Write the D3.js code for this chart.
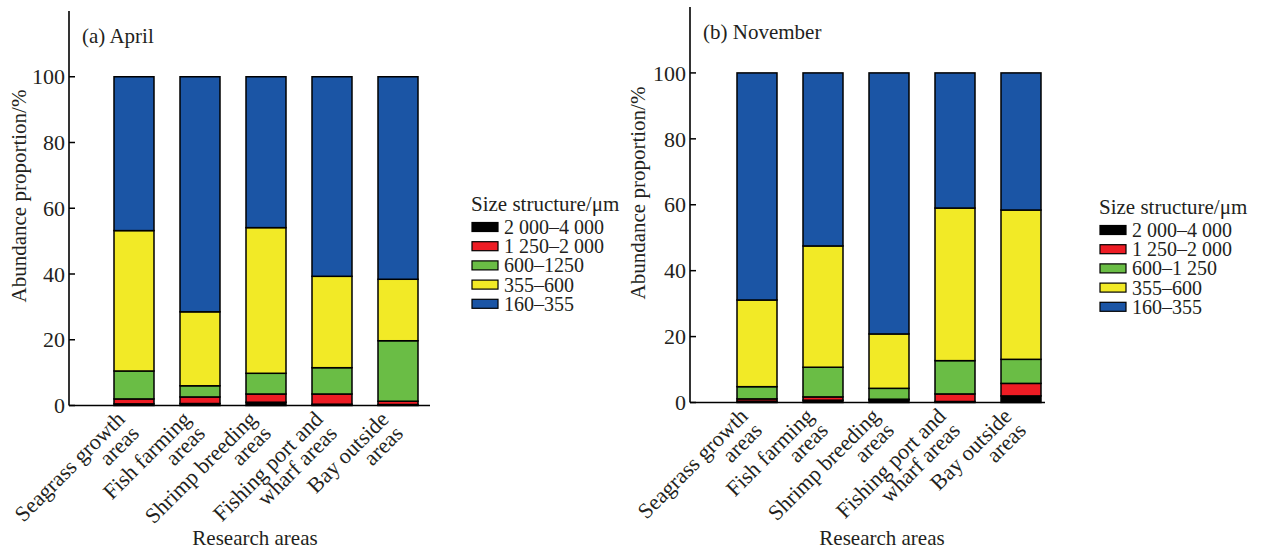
<!DOCTYPE html>
<html>
<head>
<meta charset="utf-8">
<script src="https://cdn.jsdelivr.net/npm/d3@7"></script>
<style>
  body { margin: 0; background: #fff; }
  text { font-family: "Liberation Serif", "Times New Roman", serif; fill: #231f20; }
</style>
</head>
<body>
<svg id="chart" width="1262" height="551"></svg>
<script>
// research areas (two-line tick labels)
const areas = ["Seagrass growth|areas", "Fish farming|areas", "Shrimp breeding|areas",
               "Fishing port and|wharf areas", "Bay outside|areas"];

// size classes, bottom of the stack first
const sizeKeys = ["s2000", "s1250", "s600", "s355", "s160"];
const sizeColors = ["#000000", "#ed1c24", "#6abd45", "#f2ea26", "#1b55a5"];
const legendAprilLabels = ["2 000–4 000", "1 250–2 000", "600–1250", "355–600", "160–355"];
const legendNovLabels = ["2 000–4 000", "1 250–2 000", "600–1 250", "355–600", "160–355"];
const yTicks = [0, 20, 40, 60, 80, 100];

// April (%) per area
const apr2000 = [0.5, 0.6, 1.0, 0.4, 0.3];
const apr1250 = [1.5, 2.0, 2.5, 3.1, 1.0];
const apr600  = [8.5, 3.4, 6.3, 8.0, 18.4];
const apr355  = [42.7, 22.5, 44.3, 27.8, 18.7];
const apr160  = [46.8, 71.5, 45.9, 60.7, 61.6];

// November (%) per area
const nov2000 = [0.4, 0.7, 0.8, 0.3, 2.0];
const nov1250 = [0.7, 1.0, 0.2, 2.3, 3.8];
const nov600  = [3.7, 9.0, 3.3, 10.1, 7.3];
const nov355  = [26.3, 36.8, 16.5, 46.3, 45.3];
const nov160  = [68.9, 52.5, 79.2, 41.0, 41.6];

function rows(a, b, c, d, e) {
  return areas.map((name, i) => ({ area: name, s2000: a[i], s1250: b[i], s600: c[i], s355: d[i], s160: e[i] }));
}

const svg = d3.select("#chart");

function drawPanel(cfg) {
  const g = svg.append("g");

  const x = d3.scaleBand()
    .domain(areas)
    .range([cfg.bandStart, cfg.bandStart + 330])
    .paddingInner(0.394)
    .paddingOuter(0.197);

  const y = d3.scaleLinear().domain([0, 120]).range([cfg.y0, cfg.yTop]);

  const stacked = d3.stack().keys(sizeKeys)(cfg.data);

  g.selectAll("g.layer")
    .data(stacked)
    .enter().append("g")
    .attr("class", "layer")
    .attr("fill", (d, i) => sizeColors[i])
    .selectAll("rect")
    .data(d => d)
    .enter().append("rect")
    .attr("x", d => x(d.data.area))
    .attr("width", x.bandwidth())
    .attr("y", d => y(d[1]))
    .attr("height", d => y(d[0]) - y(d[1]))
    .attr("stroke", "#000")
    .attr("stroke-width", 1.5);

  // axes lines
  g.append("line")
    .attr("x1", cfg.axisX).attr("x2", cfg.axisX)
    .attr("y1", y(0)).attr("y2", y(120))
    .attr("stroke", "#000").attr("stroke-width", 1.6);
  g.append("line")
    .attr("x1", cfg.axisX).attr("x2", cfg.axisRight)
    .attr("y1", y(0)).attr("y2", y(0))
    .attr("stroke", "#000").attr("stroke-width", 1.6);

  yTicks.forEach(t => {
    g.append("line")
      .attr("x1", cfg.axisX).attr("x2", cfg.axisX + 6)
      .attr("y1", y(t)).attr("y2", y(t))
      .attr("stroke", "#000").attr("stroke-width", 1.5);
    g.append("text")
      .attr("x", cfg.axisX - 4)
      .attr("y", y(t))
      .attr("dy", "0.35em")
      .attr("text-anchor", "end")
      .style("font-size", "22px")
      .text(t);
  });

  // rotated category labels
  areas.forEach(a => {
    const cx = x(a) + x.bandwidth() / 2;
    const t = g.append("text")
      .attr("transform", `translate(${cx - 8},${cfg.y0 + 15}) rotate(-45)`)
      .attr("text-anchor", "end")
      .style("font-size", "22px");
    a.split("|").forEach((line, k) => {
      t.append("tspan").attr("x", 0).attr("dy", k === 0 ? 0 : "0.92em").text(line);
    });
  });

  g.append("text")
    .attr("x", cfg.xTitleX).attr("y", 545)
    .attr("text-anchor", "middle")
    .style("font-size", "21px")
    .text("Research areas");

  g.append("text")
    .attr("transform", `translate(${cfg.yTitleX},${cfg.yTitleY}) rotate(-90)`)
    .attr("text-anchor", "middle")
    .style("font-size", "21px")
    .text("Abundance proportion/%");

  g.append("text")
    .attr("x", cfg.axisX + 13).attr("y", cfg.titleY)
    .style("font-size", "21px")
    .text(cfg.title);

  // legend, top entry is the largest size class
  const lg = g.append("g");
  lg.append("text")
    .attr("x", cfg.legX).attr("y", cfg.legY)
    .style("font-size", "21px")
    .text("Size structure/μm");
  sizeKeys.forEach((k, i) => {
    const cy = cfg.legY + 16 + i * 19.2;
    lg.append("rect")
      .attr("x", cfg.legX + 1).attr("y", cy - 4.5)
      .attr("width", 26).attr("height", 9)
      .attr("fill", sizeColors[i])
      .attr("stroke", "#000").attr("stroke-width", 1.2);
    lg.append("text")
      .attr("x", cfg.legX + 33).attr("y", cy)
      .attr("dy", "0.35em")
      .style("font-size", "20px")
      .text(cfg.legendLabels[i]);
  });
}

drawPanel({
  data: rows(apr2000, apr1250, apr600, apr355, apr160),
  bandStart: 101, y0: 405.5, yTop: 11, axisX: 69, axisRight: 430,
  xTitleX: 255, yTitleX: 26, yTitleY: 196, titleY: 43,
  title: "(a) April", legX: 471, legY: 211, legendLabels: legendAprilLabels
});

drawPanel({
  data: rows(nov2000, nov1250, nov600, nov355, nov160),
  bandStart: 724, y0: 402.5, yTop: 7, axisX: 690, axisRight: 1045,
  xTitleX: 882, yTitleX: 645, yTitleY: 193, titleY: 39,
  title: "(b) November", legX: 1099, legY: 214, legendLabels: legendNovLabels
});
</script>
</body>
</html>
